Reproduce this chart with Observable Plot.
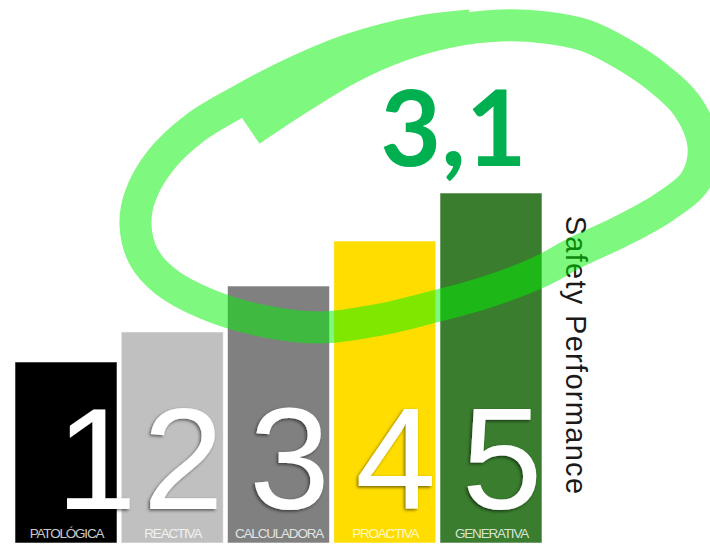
<!DOCTYPE html>
<html>
<head>
<meta charset="utf-8">
<script src="https://cdn.jsdelivr.net/npm/d3@7"></script>
<script src="https://cdn.jsdelivr.net/npm/@observablehq/plot@0.6"></script>
<style>
  html, body { margin: 0; padding: 0; background: #fff; }
</style>
</head>
<body>
<div id="chart"></div>
<script>
// ---- data ----
const levels = [1, 2, 3, 4, 5];
const labels = ["PATOLÓGICA", "REACTIVA", "CALCULADORA", "PROACTIVA", "GENERATIVA"];
const heights = [181, 211, 257, 302, 350];
const colors = ["#000000", "#c0c0c0", "#808080", "#ffdd00", "#3a7d2e"];
const score = "3,1";
const axisTitle = "Safety Performance";
// hand-drawn ring around the score (level units, height units)
const ringX = [2.732, 3.202, 3.673, 4.144, 4.614, 5.085, 5.508, 5.885, 6.214, 6.553, 6.845, 6.995, 6.920, 6.620,
               6.214, 5.791, 5.461, 4.944, 4.426, 3.908, 3.391, 2.826, 2.308, 1.932, 1.725, 1.649, 1.696, 1.885,
               2.214, 2.638, 3.108, 3.673, 4.332, 4.802];
const ringY = [413, 446, 476, 498, 512, 518, 516, 508, 491, 467, 437, 398, 363, 336,
               312, 291, 272, 251, 236, 223, 216, 223, 240, 262, 287, 319, 348, 383,
               416, 443, 469, 494, 512, 518];

const bars = levels.map((level, i) => ({level, label: labels[i], height: heights[i], color: colors[i]}));
const ring = ringX.map((u, i) => ({u, v: ringY[i]}));

const sans = "Liberation Sans, Arial, Helvetica, sans-serif";

const chart = Plot.plot({
  width: 710,
  height: 546,
  marginTop: 0, marginRight: 0, marginBottom: 3, marginLeft: 0,
  x: {type: "linear", domain: [0.3788, 7.0612], axis: null},
  y: {domain: [0, 543], axis: null},
  color: {type: "identity"},
  style: {background: "#fff", overflow: "visible"},
  marks: [
    Plot.rectY(bars, {
      x1: d => d.level - 0.48, x2: d => d.level + 0.48, y1: 0, y2: "height",
      fill: "color", stroke: "#ffffff", strokeOpacity: 0.55, strokeWidth: 1
    }),
    Plot.text(bars, {
      // the "1" glyph sits left in its advance box, so nudge it to the bar's right edge
      x: d => d.level + (d.level === 1 ? 0.66 : 0.48), y: 35, text: d => String(d.level),
      textAnchor: "end", lineAnchor: "bottom", fontSize: 145, fontFamily: sans,
      fill: "#ffffff"
    }),
    Plot.text(bars, {
      x: "level", y: 6, text: "label", lineAnchor: "bottom",
      fontSize: 13.5, fontFamily: sans, fill: "#ffffff", fillOpacity: 0.8
    }),
    Plot.text([axisTitle], {
      x: 5.79, y: 188, text: d => d, rotate: 90,
      fontSize: 29, fontFamily: sans, fill: "#1a1a1a"
    }),
    Plot.text([score], {
      x: 4.642, y: 378, text: d => d, lineAnchor: "bottom",
      fontSize: 105, fontWeight: "bold", fontFamily: "Lato, Open Sans, sans-serif", fill: "#00b050"
    }),
    Plot.line(ring, {
      x: "u", y: "v", curve: "catmull-rom",
      stroke: "#00f200", strokeOpacity: 0.5, strokeWidth: 32,
      strokeLinecap: "butt", strokeLinejoin: "round"
    })
  ]
});

// digit emboss shadow and letter spacing (text groups in mark order)
const svg = d3.select(chart);
const defs = svg.insert("defs", ":first-child");
defs.append("filter").attr("id", "digitShadow").attr("x", "-20%").attr("y", "-20%").attr("width", "140%").attr("height", "140%")
  .append("feDropShadow").attr("dx", -1.5).attr("dy", 1.5).attr("stdDeviation", 1.6)
  .attr("flood-color", "#000").attr("flood-opacity", 0.55);
const textGroups = svg.selectAll('g[aria-label="text"]').nodes();
d3.select(textGroups[0]).selectAll("text").attr("filter", "url(#digitShadow)");
d3.select(textGroups[1]).selectAll("text").style("letter-spacing", "-1.2px");
d3.select(textGroups[2]).selectAll("text").style("letter-spacing", "1.3px");

document.getElementById("chart").appendChild(chart);
</script>
</body>
</html>
